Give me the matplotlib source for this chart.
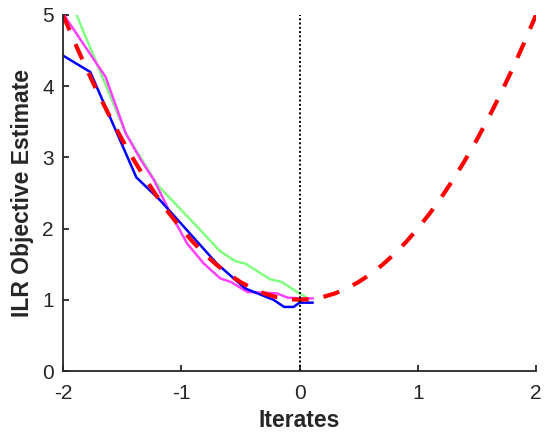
import matplotlib
matplotlib.use("Agg")
import matplotlib.pyplot as plt

plt.rcParams['font.family'] = ['Liberation Sans', 'DejaVu Sans']
plt.rcParams['axes.unicode_minus'] = False

# red dashed model curve
model_x = [-2.0, -1.9, -1.8, -1.7, -1.6, -1.5, -1.4, -1.3, -1.2, -1.1, -1.0,
           -0.9, -0.8, -0.7, -0.6, -0.5, -0.4, -0.3, -0.2, -0.1, 0.0,
           0.1, 0.2, 0.3, 0.4, 0.5, 0.6, 0.7, 0.8, 0.9, 1.0,
           1.1, 1.2, 1.3, 1.4, 1.5, 1.6, 1.7, 1.8, 1.9, 2.0]
model_y = [5.00, 4.61, 4.24, 3.89, 3.56, 3.25, 2.96, 2.69, 2.44, 2.21, 2.00,
           1.81, 1.64, 1.49, 1.36, 1.25, 1.16, 1.09, 1.04, 1.01, 1.00,
           1.01, 1.04, 1.09, 1.16, 1.25, 1.36, 1.49, 1.64, 1.81, 2.00,
           2.21, 2.44, 2.69, 2.96, 3.25, 3.56, 3.89, 4.24, 4.61, 5.00]

# iterate traces
blue_x = [-2.0, -1.77, -1.38, -1.18, -0.98, -0.70, -0.46, -0.22, -0.13, -0.05, 0.0, 0.11]
blue_y = [4.43, 4.20, 2.72, 2.40, 2.03, 1.51, 1.16, 1.00, 0.90, 0.90, 0.96, 0.96]

magenta_x = [-2.0, -1.64, -1.47, -1.34, -1.23, -1.09, -0.95, -0.81, -0.67, -0.58,
             -0.44, -0.19, -0.10, 0.01, 0.11]
magenta_y = [5.02, 4.13, 3.34, 2.96, 2.68, 2.21, 1.79, 1.51, 1.30, 1.25,
             1.11, 1.09, 1.03, 1.02, 1.02]

green_x = [-1.89, -1.47, -1.20, -0.89, -0.67, -0.54, -0.46, -0.25, -0.15, -0.02, 0.07]
green_y = [5.02, 3.34, 2.61, 2.07, 1.68, 1.54, 1.51, 1.29, 1.25, 1.11, 1.02]

fig = plt.figure(figsize=(5.46, 4.37), dpi=100)
ax = fig.add_axes([0.1154, 0.151, 0.8663, 0.8147])

ax.plot(green_x, green_y, color='#80ff80', linewidth=1.8)
ax.plot(magenta_x, magenta_y, color='#ff40ff', linewidth=1.8)
ax.plot(blue_x, blue_y, color='#0000ff', linewidth=1.8)
ax.plot(model_x, model_y, color='#ff0000', linewidth=3.0, linestyle=(0, (4.0, 3.6)))
ax.plot([0, 0], [0, 5], color='black', linewidth=1.4, linestyle=(0, (1, 1.2)))

ax.set_xlim(-2, 2)
ax.set_ylim(0, 5)
ax.set_xticks([-2, -1, 0, 1, 2])
ax.set_yticks([0, 1, 2, 3, 4, 5])
ax.spines['top'].set_visible(False)
ax.spines['right'].set_visible(False)
for s in ('left', 'bottom'):
    ax.spines[s].set_color('#262626')
    ax.spines[s].set_linewidth(1.3)
ax.tick_params(direction='in', length=4, width=1.3, colors='#262626', labelsize=15)
ax.tick_params(axis='x', pad=9)
ax.tick_params(axis='y', pad=6.5)
ax.set_xlabel('Iterates', fontsize=16.5, fontweight='bold', color='#262626', labelpad=4.5)
ax.set_ylabel('ILR Objective Estimate', fontsize=16.5, fontweight='bold', color='#262626', labelpad=6)

fig.savefig('out.png', dpi=100)
